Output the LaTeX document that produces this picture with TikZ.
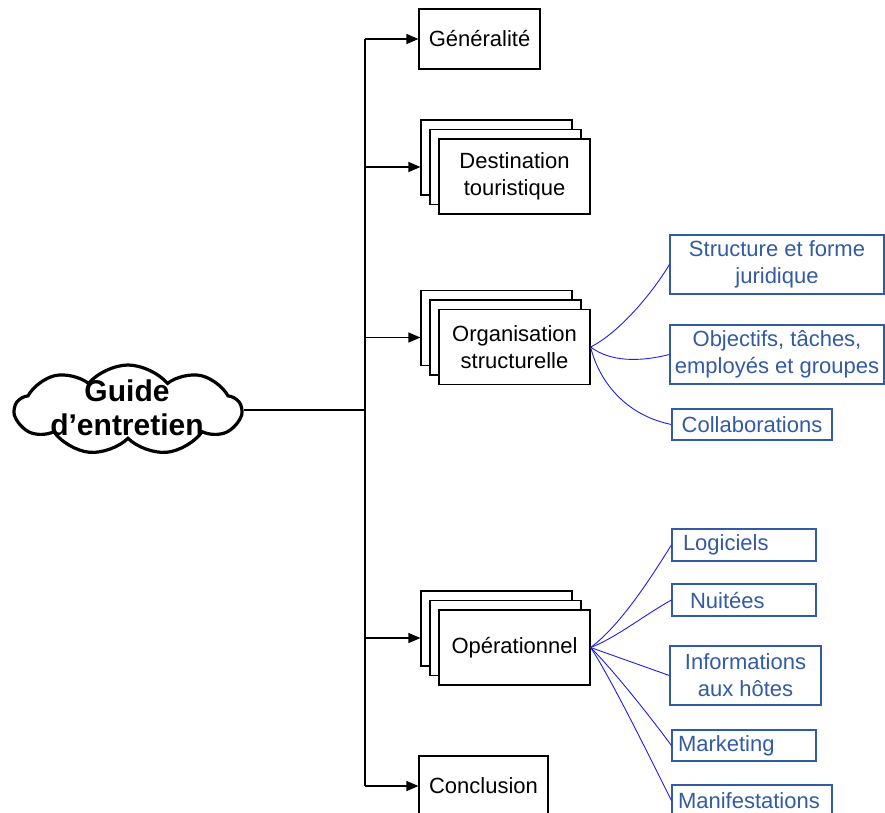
\documentclass[tikz,border=0pt]{standalone}
\usepackage{fontspec}
\setmainfont{Liberation Sans}
\usetikzlibrary{shapes.symbols,arrows.meta}

\definecolor{boxblue}{RGB}{50,90,165}
\definecolor{linkblue}{RGB}{30,30,235}

\tikzset{
  blackbox/.style={draw=black, line width=1.2pt, fill=white, inner sep=0pt,
    align=center, font=\fontsize{22}{27}\selectfont},
  bluebox/.style={draw=boxblue, line width=1.2pt, text=boxblue, inner sep=0pt,
    font=\fontsize{22}{27}\selectfont},
  feed/.style={line width=1.2pt, -{Triangle[length=12pt,width=10pt]}},
  trunkline/.style={line width=1.2pt},
  blueline/.style={draw=linkblue, line width=0.9pt},
}

% three stacked boxes: name, centre x, centre y, label
\newcommand\stackedbox[4]{%
  \node[blackbox, minimum width=151pt, minimum height=75pt] (#1-back) at (#2-18,#3-19) {};
  \node[blackbox, minimum width=151pt, minimum height=75pt] (#1-mid) at (#2-9,#3-9.5) {};
  \node[blackbox, minimum width=151pt, minimum height=75pt] (#1) at (#2,#3) {#4};
}

\begin{document}
\begin{tikzpicture}[x=1pt,y=-1pt]
\useasboundingbox (0,0) rectangle (885,812);
\clip (0,0) rectangle (885,812);

% central cloud
\node[cloud, cloud puffs=9, cloud puff arc=100, cloud ignores aspect, draw, line width=3.2pt,
      minimum width=226pt, minimum height=90pt, fill=white] (cloud) at (128,410) {};
\node[font=\bfseries\fontsize{30}{34}\selectfont, align=center] (cloudtext) at (127,408)
  {Guide\\d’entretien};

% main branches
\node[blackbox, minimum width=121pt, minimum height=60pt] (gen) at (479.5,39) {Généralité};
\stackedbox{dest}{514.5}{176.5}{Destination\\touristique}
\stackedbox{org}{514.5}{347}{Organisation\\structurelle}
\stackedbox{oper}{514.5}{647.5}{Opérationnel}
\node[blackbox, minimum width=129pt, minimum height=60pt] (concl) at (483.5,786) {Conclusion};

% trunk and feeds
\coordinate (ttop) at (365,39);
\coordinate (tbot) at (365,786);
\draw[trunkline] (ttop) -- (tbot);
\draw[trunkline] (cloud.east) -- (cloud.east -| ttop);
\draw[feed] (ttop) -- (gen.west);
\draw[feed] (ttop |- dest-mid.center) -- (dest-back.west |- dest-mid.center);
\draw[feed] (ttop |- org-mid.center) -- (org-back.west |- org-mid.center);
\draw[feed] (ttop |- oper-mid.center) -- (oper-back.west |- oper-mid.center);
\draw[feed] (tbot) -- (concl.west);

% organisation details
\node[bluebox, minimum width=214pt, minimum height=59pt, align=center] (struct) at (777,264.5)
  {Structure et forme\\juridique};
\node[bluebox, minimum width=214pt, minimum height=59pt, align=center] (obj) at (777,354.5)
  {Objectifs, tâches,\\employés et groupes};
\node[bluebox, minimum width=160pt, minimum height=31pt] (collab) at (752,424.5) {Collaborations};

\draw[blueline] (org.east) .. controls +(30,-15) and +(-15,25.5) .. (struct.west);
\draw[blueline] (org.east) .. controls +(20,15) and +(-30,7.5) .. (obj.west);
\draw[blueline] (org.east) .. controls +(8,33) and +(-47,-9.5) .. (collab.west);

% operational details
\node[bluebox, minimum width=144pt, minimum height=32pt, inner xsep=11pt, text width=122pt,
      align=left] (logi) at (744,545) {Logiciels};
\node[bluebox, minimum width=144pt, minimum height=32pt, inner xsep=18pt, text width=108pt,
      align=left] (nuit) at (744,600) {Nuitées};
\node[bluebox, minimum width=151pt, minimum height=59pt, align=center] (info) at (745.5,675.5)
  {Informations\\aux hôtes};
\node[bluebox, minimum width=144pt, minimum height=31pt, inner xsep=6pt, text width=132pt,
      align=left] (mark) at (744,745.5) {Marketing};
\node[bluebox, minimum width=160pt, minimum height=31pt, inner xsep=6pt, text width=148pt,
      align=left] (manif) at (752,800.5) {Manifestations};

\draw[blueline] (oper.east) .. controls +(30,-22.5) and +(-22,35) .. (logi.west);
\draw[blueline] (oper.east) .. controls +(25,-9.5) and +(-27,15) .. (nuit.west);
\draw[blueline] (oper.east) -- (info.west);
\draw[blueline] (oper.east) .. controls +(22,22) and +(-22,-30) .. (mark.west);
\draw[blueline] (oper.east) .. controls +(20,30) and +(-20,-40) .. (manif.west);
\end{tikzpicture}
\end{document}
